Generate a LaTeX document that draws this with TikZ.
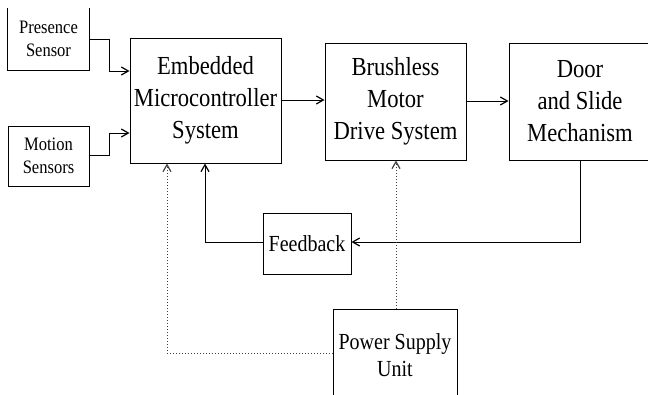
\documentclass[tikz,border=0pt]{standalone}
\usepackage{fontspec}
\setmainfont{Liberation Serif}
\usetikzlibrary{arrows.meta}
\tikzset{
  blk/.style={draw, line width=1pt, align=center, inner sep=0pt, anchor=center},
  big/.style={font=\fontsize{26}{32}\selectfont},
  mid/.style={font=\fontsize{23}{27}\selectfont},
  sml/.style={font=\fontsize{19}{23}\selectfont},
  conn/.style={line width=1pt, -{Straight Barb[length=7pt,width=8pt,line width=1.2pt]}},
  pwr/.style={conn, dotted, black!75},
}
\newcommand{\sq}[1]{\scalebox{0.87}[1]{#1}}
\begin{document}
\begin{tikzpicture}[x=1pt,y=-1pt]
\useasboundingbox (0,0) rectangle (648,394);
\clip (0,0) rectangle (648,394);
% sensors
\node[align=center, inner sep=0pt, minimum width=81pt, minimum height=62pt, sml] (pres) at (48.5,39) {\sq{Presence}\\\sq{Sensor}};
\draw[line width=1pt] (pres.north west) -- (pres.south west) -- (pres.south east) -- (pres.north east);
\node[blk, sml, minimum width=81pt, minimum height=60pt] (mot) at (48.5,156) {\sq{Motion}\\\sq{Sensors}};
% main blocks
\node[blk, big, minimum width=151pt, minimum height=125pt] (emb) at (205.5,100.5) {\sq{Embedded}\\\sq{Microcontroller}\\\sq{System}};
\node[blk, big, minimum width=141pt, minimum height=117pt] (bld) at (395.5,101.5) {\sq{Brushless}\\\sq{Motor}\\\sq{Drive System}};
\node[blk, big, minimum width=142pt, minimum height=117pt] (door) at (580,101.5) {\sq{Door}\\\sq{and Slide}\\\sq{Mechanism}};
\node[blk, mid, minimum width=88pt, minimum height=61pt] (fb) at (307,243.5) {\sq{Feedback}};
\node[blk, mid, minimum width=124pt, minimum height=92pt] (psu) at (395,355) {\sq{Power Supply}\\\sq{Unit}};
% connectors
\draw[conn] (pres.east |- 0,39) -- (109,39) -- (109,71) -- (emb.west |- 0,71);
\draw[conn] (mot.east |- 0,155) -- (109,155) -- (109,133) -- (emb.west |- 0,133);
\draw[conn] (emb.east |- 0,100) -- (bld.west |- 0,100);
\draw[conn] (bld.east |- 0,101) -- (door.west |- 0,101);
\draw[conn] (door.south) -- (580,242) -- (fb.east |- 0,242);
\draw[conn] (fb.west |- 0,242) -- (205,242) -- (emb.south -| 205,0);
\draw[pwr] (psu.west |- 0,353) -- (167,353) -- (emb.south -| 167,0);
\draw[pwr] (psu.north -| 396,0) -- (bld.south -| 396,0);
\end{tikzpicture}
\end{document}
